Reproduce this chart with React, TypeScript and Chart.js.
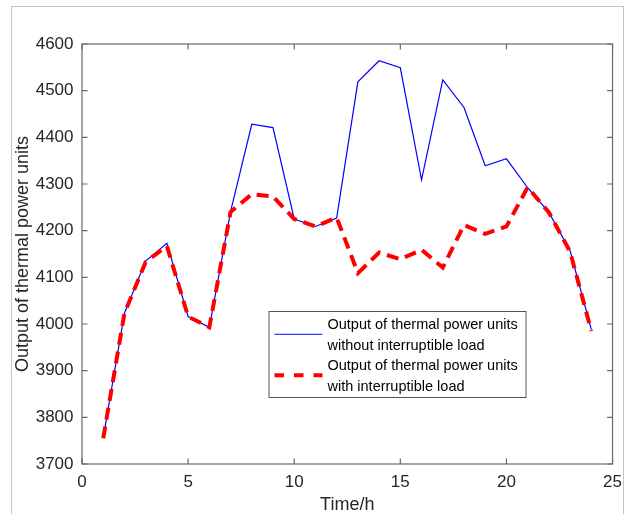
import React, { useEffect, useRef } from 'react';
import { Chart, registerables } from 'chart.js';

Chart.register(...registerables);

const hours = [1, 2, 3, 4, 5, 6, 7, 8, 9, 10, 11, 12, 13, 14, 15, 16, 17, 18, 19, 20, 21, 22, 23, 24];
const withoutIL = [3756, 4023, 4135, 4173, 4016, 3993, 4241, 4428, 4421, 4225, 4209, 4227, 4519, 4564, 4549, 4309, 4523, 4464, 4339, 4354, 4292, 4239, 4157, 3988];
const withIL = [3755, 4023, 4133, 4167, 4016, 3993, 4240, 4278, 4273, 4225, 4209, 4228, 4109, 4153, 4139, 4159, 4121, 4212, 4193, 4209, 4293, 4239, 4155, 3985];
const xTicks = [0, 5, 10, 15, 20, 25];
const yTicks = [3700, 3800, 3900, 4000, 4100, 4200, 4300, 4400, 4500, 4600];
const seriesLabels = [
  ['Output of thermal power units', 'without interruptible load'],
  ['Output of thermal power units', 'with interruptible load'],
];
const xTitle = 'Time/h';
const yTitle = 'Output of thermal power units';

const FONT = 'Arial, "Liberation Sans", Helvetica, sans-serif';
const AXIS_COLOR = '#6a6a6a';
const TEXT_COLOR = '#262626';

const framePlugin = {
  id: 'matlabFrame',
  afterDatasetsDraw(chart: any) {
    const { ctx, chartArea, scales } = chart;
    const { left, top, right, bottom } = chartArea;
    const x = scales.x;
    const y = scales.y;
    const tl = 5.5;
    ctx.save();
    ctx.strokeStyle = AXIS_COLOR;
    ctx.lineWidth = 1.2;
    ctx.strokeRect(left, top, right - left, bottom - top);
    ctx.beginPath();
    xTicks.forEach((v) => {
      const px = x.getPixelForValue(v);
      ctx.moveTo(px, bottom);
      ctx.lineTo(px, bottom - tl);
      ctx.moveTo(px, top);
      ctx.lineTo(px, top + tl);
    });
    yTicks.forEach((v) => {
      const py = y.getPixelForValue(v);
      ctx.moveTo(left, py);
      ctx.lineTo(left + tl, py);
      ctx.moveTo(right, py);
      ctx.lineTo(right - tl, py);
    });
    ctx.stroke();
    ctx.restore();
  },
};

const legendPlugin = {
  id: 'boxLegend',
  afterDraw(chart: any) {
    const { ctx, chartArea } = chart;
    const boxL = chartArea.left + 186.5;
    const boxT = chartArea.top + 267;
    const boxW = 257;
    const boxH = 86;
    ctx.save();
    ctx.fillStyle = '#ffffff';
    ctx.fillRect(boxL, boxT, boxW, boxH);
    ctx.strokeStyle = '#555555';
    ctx.lineWidth = 1;
    ctx.strokeRect(boxL + 0.5, boxT + 0.5, boxW, boxH);
    ctx.font = `14.5px ${FONT}`;
    ctx.fillStyle = '#000000';
    ctx.textBaseline = 'middle';
    ctx.textAlign = 'left';
    const lineGap = 20.5;
    chart.data.datasets.forEach((ds: any, i: number) => {
      const y1 = boxT + 14 + i * 2 * lineGap;
      const lines = seriesLabels[i];
      lines.forEach((t, j) => {
        ctx.fillText(t, boxL + 59, y1 + j * lineGap);
      });
      const sy = y1 + lineGap / 2 - 1;
      ctx.beginPath();
      ctx.strokeStyle = ds.borderColor;
      ctx.lineWidth = ds.borderWidth;
      ctx.setLineDash(ds.borderDash && ds.borderDash.length ? [9.5, 10] : []);
      ctx.moveTo(boxL + 6, sy);
      ctx.lineTo(boxL + 54, sy);
      ctx.stroke();
      ctx.setLineDash([]);
    });
    ctx.restore();
  },
};

export default function App() {
  const canvasRef = useRef<HTMLCanvasElement | null>(null);

  useEffect(() => {
    if (!canvasRef.current) return;
    const chart = new Chart(canvasRef.current, {
      type: 'line',
      data: {
        labels: hours,
        datasets: [
          {
            label: seriesLabels[0].join(' '),
            data: hours.map((h, i) => ({ x: h, y: withoutIL[i] })),
            borderColor: '#0000ff',
            borderWidth: 1.2,
            pointRadius: 0,
            tension: 0,
            fill: false,
            order: 1,
          },
          {
            label: seriesLabels[1].join(' '),
            data: hours.map((h, i) => ({ x: h, y: withIL[i] })),
            borderColor: '#ff0000',
            borderWidth: 4,
            borderDash: [12, 7],
            borderCapStyle: 'butt',
            pointRadius: 0,
            tension: 0,
            fill: false,
            order: 0,
          },
        ],
      },
      options: {
        animation: false,
        responsive: false,
        devicePixelRatio: 1,
        layout: { padding: { left: 0, top: 44, right: 17, bottom: 0 } },
        plugins: {
          legend: { display: false },
          tooltip: { enabled: false },
        },
        scales: {
          x: {
            type: 'linear',
            min: 0,
            max: 25,
            grid: { display: false, drawTicks: false },
            border: { display: false },
            afterBuildTicks: (s: any) => {
              s.ticks = xTicks.map((v) => ({ value: v }));
            },
            afterFit: (s: any) => {
              s.height = 50;
            },
            ticks: {
              padding: 8,
              color: TEXT_COLOR,
              font: { family: FONT, size: 17 },
              maxRotation: 0,
              callback: (v: any) => String(v),
            },
            title: {
              display: true,
              text: xTitle,
              color: TEXT_COLOR,
              font: { family: FONT, size: 18, lineHeight: 1 },
              padding: { top: 0, bottom: 0 },
            },
          },
          y: {
            type: 'linear',
            min: 3700,
            max: 4600,
            grid: { display: false, drawTicks: false },
            border: { display: false },
            afterBuildTicks: (s: any) => {
              s.ticks = yTicks.map((v) => ({ value: v }));
            },
            afterFit: (s: any) => {
              s.width = 82;
            },
            ticks: {
              padding: 8.5,
              color: TEXT_COLOR,
              font: { family: FONT, size: 17 },
              callback: (v: any) => String(v),
            },
            title: {
              display: true,
              text: yTitle,
              color: TEXT_COLOR,
              font: { family: FONT, size: 18 },
              padding: { top: 12, bottom: 0 },
            },
          },
        },
      },
      plugins: [framePlugin, legendPlugin],
    });
    return () => chart.destroy();
  }, []);

  return (
    <div style={{ position: 'absolute', left: 0, top: 0, width: 630, height: 514, background: '#ffffff', overflow: 'hidden' }}>
      <div
        style={{
          position: 'absolute',
          left: 11,
          top: 6,
          width: 613,
          height: 600,
          boxSizing: 'border-box',
          border: '1.5px solid #c4c4c4',
          borderBottom: 'none',
        }}
      />
      <canvas ref={canvasRef} width={630} height={514} style={{ position: 'absolute', left: 0, top: 0 }} />
    </div>
  );
}
